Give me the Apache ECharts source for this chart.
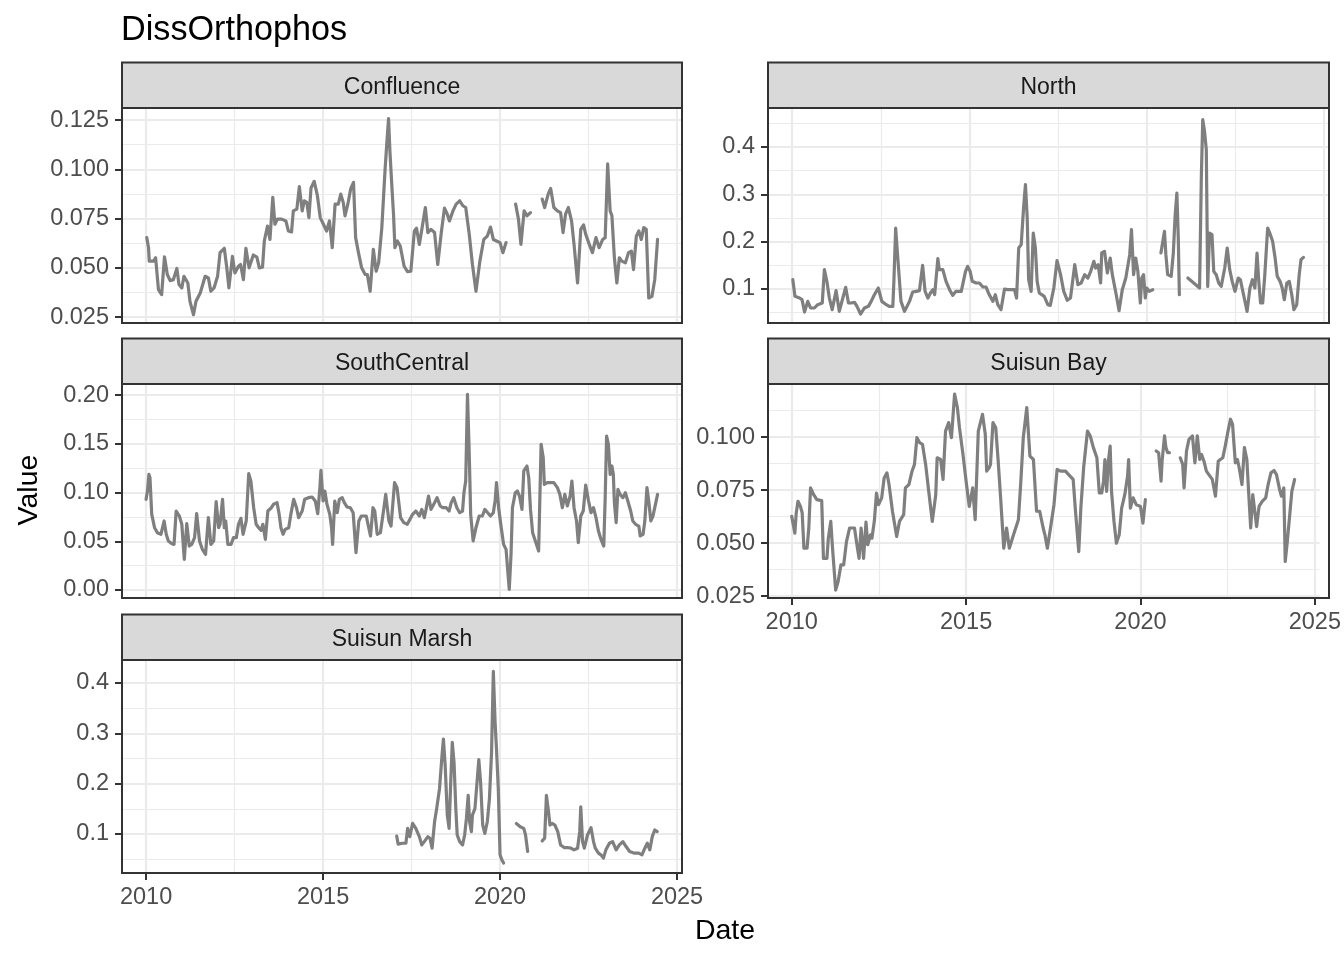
<!DOCTYPE html>
<html>
<head>
<meta charset="utf-8">
<script src="https://cdn.jsdelivr.net/npm/echarts@6/dist/echarts.min.js"></script>
<style>html,body{margin:0;padding:0;background:#fff}#chart{width:1344px;height:960px}</style>
</head>
<body>
<div id="chart"></div>
<script>
const chartTitle = 'DissOrthophos';
const panelNames = ['Confluence', 'North', 'SouthCentral', 'Suisun Bay', 'Suisun Marsh'];
const xMajorTicks = [2010, 2015, 2020, 2025];
const xMinorTicks = [2012.5, 2017.5, 2022.5];
const confluenceTicks = [0.025, 0.05, 0.075, 0.1, 0.125];
const confluenceMinor = [0.0375, 0.0625, 0.0875, 0.1125];
const northTicks = [0.1, 0.2, 0.3, 0.4];
const northMinor = [0.05, 0.15, 0.25, 0.35, 0.45];
const southCentralTicks = [0, 0.05, 0.1, 0.15, 0.2];
const southCentralMinor = [0.025, 0.075, 0.125, 0.175];
const suisunBayTicks = [0.025, 0.05, 0.075, 0.1];
const suisunBayMinor = [0.0375, 0.0625, 0.0875, 0.1125];
const suisunMarshTicks = [0.1, 0.2, 0.3, 0.4];
const suisunMarshMinor = [0.05, 0.15, 0.25, 0.35];

const confluence = [[2010.02,0.0653],[2010.07,0.0602],[2010.09,0.0534],[2010.21,0.0534],[2010.27,0.0551],[2010.35,0.0389],[2010.44,0.0364],[2010.52,0.0556],[2010.60,0.0466],[2010.68,0.0435],[2010.77,0.0440],[2010.87,0.0497],[2010.93,0.0415],[2011.01,0.0398],[2011.07,0.0457],[2011.18,0.0423],[2011.24,0.0330],[2011.34,0.0262],[2011.41,0.0330],[2011.53,0.0372],[2011.67,0.0457],[2011.76,0.0449],[2011.83,0.0381],[2011.92,0.0398],[2012.02,0.0457],[2012.09,0.0577],[2012.21,0.0599],[2012.28,0.0500],[2012.34,0.0398],[2012.44,0.0558],[2012.51,0.0474],[2012.61,0.0508],[2012.67,0.0517],[2012.75,0.0440],[2012.82,0.0599],[2012.91,0.0500],[2013.03,0.0565],[2013.13,0.0554],[2013.20,0.0500],[2013.29,0.0503],[2013.34,0.0636],[2013.43,0.0712],[2013.50,0.0644],[2013.58,0.0857],[2013.64,0.0721],[2013.71,0.0747],[2013.83,0.0747],[2013.95,0.0738],[2014.02,0.0687],[2014.11,0.0682],[2014.16,0.0789],[2014.26,0.0798],[2014.33,0.0912],[2014.41,0.0789],[2014.47,0.0840],[2014.54,0.0832],[2014.60,0.0755],[2014.66,0.0905],[2014.75,0.0939],[2014.84,0.0866],[2014.92,0.0755],[2015.01,0.0721],[2015.10,0.0687],[2015.18,0.0738],[2015.26,0.0602],[2015.34,0.0823],[2015.43,0.0823],[2015.50,0.0874],[2015.57,0.0832],[2015.62,0.0764],[2015.70,0.0823],[2015.78,0.0900],[2015.86,0.0934],[2015.92,0.0653],[2016.00,0.0577],[2016.09,0.0500],[2016.19,0.0466],[2016.25,0.0466],[2016.33,0.0381],[2016.42,0.0594],[2016.50,0.0483],[2016.57,0.0525],[2016.66,0.0704],[2016.75,0.0993],[2016.80,0.1129],[2016.85,0.1257],[2016.89,0.1087],[2016.94,0.0925],[2016.99,0.0772],[2017.03,0.0602],[2017.10,0.0636],[2017.18,0.0611],[2017.29,0.0508],[2017.39,0.0480],[2017.48,0.0483],[2017.58,0.0687],[2017.64,0.0701],[2017.72,0.0619],[2017.79,0.0695],[2017.89,0.0806],[2017.96,0.0679],[2018.05,0.0695],[2018.15,0.0679],[2018.24,0.0517],[2018.34,0.0679],[2018.43,0.0803],[2018.51,0.0772],[2018.57,0.0738],[2018.67,0.0789],[2018.76,0.0823],[2018.86,0.0840],[2018.95,0.0815],[2019.03,0.0806],[2019.13,0.0670],[2019.22,0.0517],[2019.32,0.0381],[2019.43,0.0534],[2019.54,0.0644],[2019.64,0.0661],[2019.73,0.0707],[2019.81,0.0644],[2019.90,0.0636],[2020.00,0.0628],[2020.08,0.0577],[2020.17,0.0628],[2020.30,null],[2020.44,0.0823],[2020.52,0.0747],[2020.59,0.0619],[2020.68,0.0789],[2020.76,0.0764],[2020.86,0.0780],[2021.02,null],[2021.19,0.0849],[2021.26,0.0806],[2021.36,0.0874],[2021.43,0.0903],[2021.52,0.0806],[2021.62,0.0789],[2021.71,0.0780],[2021.78,0.0679],[2021.85,0.0772],[2021.93,0.0806],[2022.02,0.0738],[2022.09,0.0619],[2022.19,0.0423],[2022.28,0.0695],[2022.36,0.0718],[2022.42,0.0670],[2022.52,0.0619],[2022.61,0.0577],[2022.71,0.0653],[2022.80,0.0602],[2022.90,0.0644],[2022.97,0.0653],[2023.04,0.1027],[2023.11,0.0789],[2023.16,0.0764],[2023.23,0.0551],[2023.30,0.0423],[2023.37,0.0551],[2023.44,0.0534],[2023.54,0.0525],[2023.63,0.0577],[2023.71,0.0585],[2023.77,0.0491],[2023.85,0.0661],[2023.92,0.0687],[2023.99,0.0644],[2024.06,0.0704],[2024.13,0.0695],[2024.20,0.0347],[2024.29,0.0355],[2024.37,0.0440],[2024.45,0.0644]];

const north = [[2010.02,0.1197],[2010.08,0.0845],[2010.21,0.0810],[2010.28,0.0775],[2010.35,0.0514],[2010.44,0.0739],[2010.52,0.0599],[2010.63,0.0599],[2010.72,0.0669],[2010.85,0.0704],[2010.91,0.1408],[2010.98,0.1162],[2011.05,0.0810],[2011.13,0.0563],[2011.24,0.0965],[2011.33,0.0528],[2011.43,0.0810],[2011.51,0.1035],[2011.59,0.0704],[2011.66,0.0704],[2011.76,0.0718],[2011.83,0.0634],[2011.93,0.0472],[2012.04,0.0599],[2012.15,0.0634],[2012.23,0.0739],[2012.32,0.0880],[2012.43,0.1021],[2012.53,0.0739],[2012.63,0.0683],[2012.74,0.0634],[2012.84,0.0634],[2012.87,0.1162],[2012.92,0.2289],[2012.98,0.1655],[2013.07,0.0739],[2013.17,0.0528],[2013.31,0.0739],[2013.40,0.0937],[2013.50,0.0951],[2013.59,0.0965],[2013.68,0.1500],[2013.75,0.0951],[2013.83,0.0810],[2013.90,0.0915],[2013.97,0.0986],[2014.02,0.0880],[2014.11,0.1641],[2014.15,0.1408],[2014.25,0.1408],[2014.34,0.1162],[2014.44,0.0986],[2014.53,0.0866],[2014.62,0.0951],[2014.77,0.0951],[2014.89,0.1373],[2014.95,0.1479],[2015.02,0.1373],[2015.08,0.1162],[2015.19,0.1127],[2015.28,0.1127],[2015.38,0.1042],[2015.47,0.1042],[2015.55,0.0894],[2015.66,0.0739],[2015.73,0.0880],[2015.80,0.0669],[2015.89,0.0563],[2015.99,0.1000],[2016.08,0.0986],[2016.17,0.0986],[2016.27,0.0986],[2016.33,0.0810],[2016.39,0.1866],[2016.46,0.1937],[2016.50,0.1937],[2016.53,0.2746],[2016.58,0.3204],[2016.63,0.2500],[2016.67,0.1197],[2016.74,0.0951],[2016.80,0.2183],[2016.86,0.1866],[2016.91,0.1162],[2016.97,0.0915],[2017.04,0.0880],[2017.11,0.0845],[2017.21,0.0669],[2017.28,0.0655],[2017.38,0.1021],[2017.47,0.1599],[2017.57,0.1303],[2017.66,0.0951],[2017.76,0.0761],[2017.85,0.0810],[2017.97,0.1514],[2018.06,0.1092],[2018.15,0.1127],[2018.25,0.1303],[2018.34,0.1232],[2018.42,0.1373],[2018.51,0.1585],[2018.56,0.1444],[2018.63,0.1514],[2018.70,0.1127],[2018.73,0.1761],[2018.81,0.1796],[2018.89,0.1338],[2018.97,0.1655],[2019.03,0.1303],[2019.14,0.0880],[2019.22,0.0542],[2019.31,0.0986],[2019.41,0.1232],[2019.46,0.1232],[2019.52,0.1725],[2019.57,0.2254],[2019.63,0.1303],[2019.69,0.1655],[2019.75,0.1373],[2019.82,0.0704],[2019.86,0.1232],[2019.91,0.1303],[2019.96,0.0810],[2020.00,0.1021],[2020.07,0.0951],[2020.17,0.0986],[2020.28,null],[2020.40,0.1761],[2020.45,0.1725],[2020.50,0.2218],[2020.54,0.1725],[2020.59,0.1303],[2020.69,0.1268],[2020.75,0.1761],[2020.80,0.2535],[2020.85,0.3028],[2020.89,0.2077],[2020.92,0.0880],[2021.04,null],[2021.16,0.1232],[2021.49,0.1021],[2021.54,0.3380],[2021.58,0.4577],[2021.63,0.4331],[2021.68,0.3944],[2021.72,0.1056],[2021.77,0.2183],[2021.84,0.2148],[2021.89,0.1373],[2021.96,0.1303],[2022.03,0.1127],[2022.10,0.1056],[2022.20,0.1444],[2022.27,0.1866],[2022.34,0.1408],[2022.41,0.1162],[2022.49,0.0951],[2022.58,0.1232],[2022.64,0.1197],[2022.72,0.0915],[2022.83,0.0528],[2022.91,0.1021],[2022.98,0.1197],[2023.05,0.1021],[2023.11,0.1761],[2023.16,0.1162],[2023.21,0.0704],[2023.27,0.0704],[2023.33,0.1303],[2023.41,0.2289],[2023.47,0.2183],[2023.55,0.2007],[2023.62,0.1655],[2023.68,0.1268],[2023.76,0.1162],[2023.82,0.1021],[2023.88,0.0775],[2023.95,0.1127],[2024.02,0.1162],[2024.09,0.0880],[2024.15,0.0563],[2024.23,0.0669],[2024.30,0.1303],[2024.35,0.1620],[2024.42,0.1669]];

const southCentral = [[2010.00,0.0930],[2010.04,0.1015],[2010.08,0.1186],[2010.11,0.1152],[2010.16,0.0776],[2010.24,0.0639],[2010.32,0.0588],[2010.42,0.0571],[2010.51,0.0708],[2010.57,0.0571],[2010.63,0.0503],[2010.73,0.0475],[2010.79,0.0468],[2010.85,0.0810],[2010.94,0.0759],[2011.01,0.0674],[2011.08,0.0315],[2011.15,0.0680],[2011.22,0.0451],[2011.29,0.0468],[2011.37,0.0537],[2011.43,0.0783],[2011.51,0.0503],[2011.59,0.0417],[2011.68,0.0366],[2011.76,0.0742],[2011.83,0.0468],[2011.91,0.0503],[2011.98,0.0906],[2012.05,0.0639],[2012.09,0.0674],[2012.16,0.0930],[2012.21,0.0639],[2012.25,0.0708],[2012.31,0.0468],[2012.40,0.0468],[2012.47,0.0537],[2012.55,0.0537],[2012.61,0.0674],[2012.68,0.0735],[2012.74,0.0571],[2012.83,0.0708],[2012.90,0.1193],[2012.96,0.1118],[2013.04,0.0844],[2013.11,0.0674],[2013.18,0.0639],[2013.25,0.0612],[2013.30,0.0674],[2013.37,0.0520],[2013.44,0.0810],[2013.54,0.0844],[2013.60,0.0879],[2013.70,0.0896],[2013.76,0.0776],[2013.81,0.0639],[2013.87,0.0571],[2013.93,0.0622],[2014.03,0.0639],[2014.09,0.0776],[2014.17,0.0930],[2014.25,0.0844],[2014.31,0.0742],[2014.41,0.0810],[2014.48,0.0930],[2014.59,0.0947],[2014.69,0.0954],[2014.78,0.0913],[2014.85,0.0783],[2014.91,0.1050],[2014.94,0.1227],[2015.00,0.0913],[2015.05,0.1015],[2015.11,0.0879],[2015.19,0.0776],[2015.24,0.0639],[2015.27,0.0468],[2015.33,0.0913],[2015.40,0.0793],[2015.46,0.0930],[2015.54,0.0947],[2015.60,0.0896],[2015.68,0.0851],[2015.77,0.0844],[2015.85,0.0793],[2015.93,0.0383],[2016.01,0.0708],[2016.08,0.0759],[2016.15,0.0759],[2016.22,0.0759],[2016.29,0.0639],[2016.34,0.0554],[2016.41,0.0844],[2016.46,0.0810],[2016.53,0.0571],[2016.62,0.0588],[2016.72,0.0844],[2016.77,0.0981],[2016.86,0.0708],[2016.92,0.0656],[2017.02,0.1101],[2017.09,0.1050],[2017.19,0.0742],[2017.28,0.0691],[2017.38,0.0674],[2017.53,0.0776],[2017.62,0.0810],[2017.72,0.0759],[2017.79,0.0827],[2017.86,0.0742],[2017.91,0.0827],[2017.98,0.0964],[2018.05,0.0827],[2018.15,0.0896],[2018.22,0.0947],[2018.31,0.0862],[2018.38,0.0844],[2018.48,0.0844],[2018.56,0.0810],[2018.62,0.0896],[2018.69,0.0947],[2018.78,0.0844],[2018.86,0.0793],[2018.94,0.0810],[2018.98,0.0998],[2019.03,0.1118],[2019.08,0.2007],[2019.13,0.1391],[2019.17,0.0776],[2019.24,0.0503],[2019.32,0.0639],[2019.41,0.0759],[2019.50,0.0759],[2019.57,0.0827],[2019.65,0.0793],[2019.73,0.0759],[2019.81,0.0793],[2019.86,0.0913],[2019.90,0.1101],[2019.96,0.0844],[2020.02,0.0674],[2020.10,0.0468],[2020.17,0.0417],[2020.21,0.0229],[2020.26,0.0007],[2020.31,0.0366],[2020.35,0.0844],[2020.43,0.0998],[2020.49,0.1015],[2020.55,0.0964],[2020.62,0.0827],[2020.67,0.1221],[2020.76,0.1272],[2020.81,0.1152],[2020.86,0.0827],[2020.92,0.0588],[2021.09,0.0400],[2021.16,0.1494],[2021.22,0.1357],[2021.25,0.1084],[2021.33,0.1101],[2021.43,0.1101],[2021.52,0.1101],[2021.62,0.1050],[2021.69,0.0981],[2021.76,0.0844],[2021.83,0.0981],[2021.90,0.0862],[2021.98,0.0964],[2022.03,0.1118],[2022.09,0.0844],[2022.16,0.0708],[2022.21,0.0485],[2022.28,0.0759],[2022.35,0.0810],[2022.42,0.1077],[2022.50,0.0913],[2022.57,0.0793],[2022.64,0.0844],[2022.71,0.0742],[2022.78,0.0605],[2022.85,0.0520],[2022.93,0.0451],[2022.97,0.0947],[2023.01,0.1579],[2023.06,0.1494],[2023.11,0.1186],[2023.16,0.1272],[2023.20,0.1186],[2023.23,0.0896],[2023.28,0.0691],[2023.33,0.1032],[2023.39,0.0981],[2023.47,0.0947],[2023.54,0.0998],[2023.61,0.0913],[2023.69,0.0810],[2023.75,0.0708],[2023.83,0.0674],[2023.92,0.0656],[2023.96,0.0554],[2024.04,0.0571],[2024.09,0.0708],[2024.15,0.1050],[2024.20,0.0913],[2024.26,0.0708],[2024.32,0.0759],[2024.39,0.0879],[2024.45,0.0981]];

const suisunBay = [[2010.00,0.0626],[2010.05,0.0634],[2010.09,0.0547],[2010.13,0.0642],[2010.18,0.0697],[2010.25,0.0673],[2010.30,0.0642],[2010.35,0.0476],[2010.44,0.0476],[2010.49,0.0571],[2010.54,0.0760],[2010.63,0.0728],[2010.72,0.0705],[2010.86,0.0700],[2010.91,0.0428],[2011.01,0.0428],[2011.05,0.0523],[2011.12,0.0602],[2011.17,0.0476],[2011.26,0.0278],[2011.33,0.0318],[2011.41,0.0397],[2011.49,0.0397],[2011.57,0.0507],[2011.66,0.0571],[2011.80,0.0571],[2011.87,0.0492],[2011.93,0.0428],[2011.99,0.0571],[2012.06,0.0428],[2012.13,0.0599],[2012.18,0.0492],[2012.26,0.0539],[2012.30,0.0523],[2012.37,0.0605],[2012.43,0.0736],[2012.49,0.0681],[2012.58,0.0713],[2012.65,0.0807],[2012.73,0.0831],[2012.79,0.0776],[2012.89,0.0649],[2013.01,0.0531],[2013.09,0.0602],[2013.21,0.0634],[2013.26,0.0760],[2013.36,0.0776],[2013.45,0.0839],[2013.52,0.0871],[2013.59,0.0997],[2013.67,0.0973],[2013.75,0.0965],[2013.84,0.0871],[2013.94,0.0728],[2014.03,0.0602],[2014.13,0.0728],[2014.17,0.0902],[2014.27,0.0894],[2014.34,0.0800],[2014.41,0.1028],[2014.50,0.1068],[2014.58,0.0997],[2014.67,0.1202],[2014.75,0.1139],[2014.81,0.1044],[2014.91,0.0918],[2015.00,0.0792],[2015.09,0.0673],[2015.19,0.0760],[2015.26,0.0610],[2015.35,0.1028],[2015.40,0.1028],[2015.47,0.1107],[2015.55,0.1013],[2015.59,0.0839],[2015.66,0.0855],[2015.70,0.0871],[2015.77,0.1068],[2015.85,0.1044],[2015.92,0.0886],[2015.99,0.0713],[2016.08,0.0476],[2016.16,0.0571],[2016.24,0.0476],[2016.36,0.0539],[2016.50,0.0610],[2016.57,0.0792],[2016.64,0.0997],[2016.74,0.1139],[2016.83,0.0910],[2016.93,0.0894],[2017.02,0.0650],[2017.11,0.0650],[2017.21,0.0571],[2017.26,0.0539],[2017.33,0.0476],[2017.42,0.0571],[2017.52,0.0681],[2017.61,0.0847],[2017.71,0.0839],[2017.85,0.0839],[2017.94,0.0823],[2018.07,0.0800],[2018.13,0.0665],[2018.23,0.0460],[2018.29,0.0665],[2018.37,0.0855],[2018.48,0.1028],[2018.56,0.1005],[2018.65,0.0950],[2018.75,0.0902],[2018.82,0.0736],[2018.89,0.0736],[2018.94,0.0792],[2018.98,0.0894],[2019.03,0.0744],[2019.08,0.0886],[2019.13,0.0957],[2019.17,0.0744],[2019.24,0.0602],[2019.31,0.0499],[2019.39,0.0539],[2019.46,0.0665],[2019.55,0.0728],[2019.63,0.0815],[2019.66,0.0894],[2019.71,0.0665],[2019.79,0.0713],[2019.88,0.0681],[2020.00,0.0673],[2020.07,0.0594],[2020.14,0.0705],[2020.30,null],[2020.45,0.0934],[2020.52,0.0926],[2020.59,0.0792],[2020.62,0.0886],[2020.69,0.1005],[2020.73,0.0950],[2020.78,0.0926],[2020.83,0.0926],[2020.98,null],[2021.14,0.0902],[2021.21,0.0871],[2021.25,0.0760],[2021.32,0.0934],[2021.39,0.0989],[2021.49,0.1005],[2021.56,0.0878],[2021.63,0.1005],[2021.70,0.0894],[2021.75,0.0918],[2021.82,0.0886],[2021.89,0.0839],[2021.96,0.0823],[2022.06,0.0800],[2022.15,0.0721],[2022.23,0.0886],[2022.29,0.0894],[2022.36,0.0902],[2022.43,0.0957],[2022.51,0.1028],[2022.58,0.1084],[2022.64,0.1060],[2022.72,0.0878],[2022.78,0.0894],[2022.83,0.0855],[2022.91,0.0776],[2022.98,0.0950],[2023.05,0.0894],[2023.10,0.0744],[2023.16,0.0571],[2023.22,0.0728],[2023.27,0.0736],[2023.33,0.0578],[2023.40,0.0673],[2023.49,0.0697],[2023.59,0.0713],[2023.66,0.0776],[2023.74,0.0831],[2023.83,0.0842],[2023.90,0.0823],[2023.99,0.0752],[2024.04,0.0721],[2024.11,0.0760],[2024.15,0.0413],[2024.21,0.0507],[2024.28,0.0634],[2024.34,0.0744],[2024.42,0.0800]];

const suisunMarsh = [[2017.08,0.0960],[2017.12,0.0800],[2017.24,0.0816],[2017.34,0.0816],[2017.39,0.1112],[2017.45,0.0947],[2017.53,0.1210],[2017.62,0.1112],[2017.72,0.0947],[2017.79,0.0783],[2017.86,0.0849],[2017.96,0.0947],[2018.02,0.0915],[2018.08,0.0718],[2018.15,0.1243],[2018.21,0.1506],[2018.29,0.1900],[2018.36,0.2556],[2018.40,0.2884],[2018.45,0.2359],[2018.51,0.1374],[2018.56,0.1112],[2018.60,0.1900],[2018.65,0.2819],[2018.70,0.2425],[2018.75,0.1506],[2018.79,0.0980],[2018.86,0.0849],[2018.94,0.0783],[2019.00,0.0980],[2019.05,0.1309],[2019.10,0.1768],[2019.14,0.1243],[2019.19,0.1046],[2019.22,0.1374],[2019.29,0.1506],[2019.35,0.2031],[2019.40,0.2477],[2019.45,0.2031],[2019.51,0.1177],[2019.57,0.1013],[2019.64,0.1243],[2019.70,0.1703],[2019.76,0.2622],[2019.81,0.4230],[2019.86,0.3213],[2019.90,0.2687],[2019.95,0.1900],[2020.00,0.0586],[2020.05,0.0488],[2020.10,0.0422],[2020.28,null],[2020.46,0.1210],[2020.57,0.1144],[2020.67,0.1112],[2020.72,0.0980],[2020.78,0.0652],[2020.98,null],[2021.19,0.0862],[2021.26,0.0915],[2021.31,0.1768],[2021.37,0.1440],[2021.41,0.1177],[2021.47,0.1210],[2021.55,0.1177],[2021.63,0.1046],[2021.71,0.0783],[2021.81,0.0731],[2021.90,0.0731],[2022.00,0.0718],[2022.09,0.0685],[2022.19,0.0718],[2022.25,0.1046],[2022.28,0.1538],[2022.33,0.0849],[2022.38,0.0718],[2022.47,0.0980],[2022.57,0.1125],[2022.64,0.0849],[2022.69,0.0718],[2022.78,0.0619],[2022.85,0.0586],[2022.92,0.0521],[2022.99,0.0685],[2023.09,0.0816],[2023.18,0.0849],[2023.28,0.0685],[2023.37,0.0783],[2023.47,0.0849],[2023.56,0.0751],[2023.66,0.0652],[2023.80,0.0619],[2023.92,0.0619],[2024.01,0.0586],[2024.09,0.0718],[2024.16,0.0816],[2024.23,0.0685],[2024.30,0.0947],[2024.37,0.1079],[2024.44,0.1046]];

const seriesData = [confluence, north, southCentral, suisunBay, suisunMarsh];
const yMajor = [confluenceTicks, northTicks, southCentralTicks, suisunBayTicks, suisunMarshTicks];
const yMinor = [confluenceMinor, northMinor, southCentralMinor, suisunBayMinor, suisunMarshMinor];
const yDecimals = [3, 1, 2, 3, 1];
const yRange = [[0.0220, 0.1311], [0.0282, 0.4824], [-0.0082, 0.2113], [0.0241, 0.1250], [0.0225, 0.4457]];
const xRange = [2009.32, 2025.14];

// layout (pixels)
const panels = [
  {left: 122, top: 108, width: 560, height: 215, xLabels: false},
  {left: 768, top: 108, width: 561, height: 215, xLabels: false},
  {left: 122, top: 384, width: 560, height: 214, xLabels: false},
  {left: 768, top: 384, width: 561, height: 214, xLabels: true},
  {left: 122, top: 660, width: 560, height: 213, xLabels: true}
];
const stripH = 45.5;
const FONT = '"Liberation Sans", Arial, sans-serif';
const tickColor = '#333333';
const labelColor = '#4D4D4D';
const tickFont = 23.5;

const grid = [], xAxis = [], yAxis = [], series = [], graphic = [];
panels.forEach((p, i) => {
  grid.push({left: p.left, top: p.top, width: p.width, height: p.height, containLabel: false, show: false});
  xAxis.push({
    gridIndex: i, type: 'value', position: 'bottom', min: xRange[0], max: xRange[1],
    axisLine: {show: false}, axisLabel: {show: false, customValues: xMinorTicks},
    axisTick: {show: false, customValues: xMinorTicks},
    splitLine: {show: true, lineStyle: {color: '#EBEBEB', width: 1.2}}
  });
  xAxis.push({
    gridIndex: i, type: 'value', position: 'bottom', min: xRange[0], max: xRange[1],
    axisLine: {show: false},
    axisTick: {show: p.xLabels, customValues: xMajorTicks, length: 7, lineStyle: {color: tickColor, width: 2}},
    axisLabel: {show: p.xLabels, customValues: xMajorTicks, margin: 13, color: labelColor,
      fontFamily: FONT, fontSize: tickFont, formatter: v => String(Math.round(v))},
    splitLine: {show: true, lineStyle: {color: '#EBEBEB', width: 2.2}}
  });
  yAxis.push({
    gridIndex: i, type: 'value', position: 'left', min: yRange[i][0], max: yRange[i][1],
    axisLine: {show: false}, axisLabel: {show: false, customValues: yMinor[i]},
    axisTick: {show: false, customValues: yMinor[i]},
    splitLine: {show: true, lineStyle: {color: '#EBEBEB', width: 1.2}}
  });
  yAxis.push({
    gridIndex: i, type: 'value', position: 'left', min: yRange[i][0], max: yRange[i][1],
    axisLine: {show: false},
    axisTick: {show: true, customValues: yMajor[i], length: 7, lineStyle: {color: tickColor, width: 2}},
    axisLabel: {show: true, customValues: yMajor[i], margin: 13, color: labelColor,
      fontFamily: FONT, fontSize: tickFont, formatter: v => v.toFixed(yDecimals[i])},
    splitLine: {show: true, lineStyle: {color: '#EBEBEB', width: 2.2}}
  });
  series.push({
    type: 'line', name: panelNames[i], xAxisIndex: 2 * i + 1, yAxisIndex: 2 * i + 1,
    data: seriesData[i], showSymbol: false, symbol: 'none', connectNulls: false,
    lineStyle: {color: '#7F7F7F', width: 3.2, join: 'round', cap: 'round'},
    emphasis: {disabled: true}, z: 5
  });
  graphic.push({type: 'rect', z: 100, silent: true,
    shape: {x: p.left, y: p.top, width: p.width, height: p.height},
    style: {fill: 'none', stroke: '#333333', lineWidth: 2}});
  graphic.push({type: 'rect', z: 100, silent: true,
    shape: {x: p.left, y: p.top - stripH, width: p.width, height: stripH},
    style: {fill: '#D9D9D9', stroke: '#333333', lineWidth: 2}});
  graphic.push({type: 'text', z: 101, silent: true,
    x: p.left + p.width / 2, y: p.top - stripH / 2 + 2.5,
    style: {text: panelNames[i], fill: '#1A1A1A', font: '23px ' + FONT, align: 'center', verticalAlign: 'middle'}});
});

graphic.push({type: 'text', z: 101, x: 121, y: 31,
  style: {text: chartTitle, fill: '#000000', font: '34.2px ' + FONT, align: 'left', verticalAlign: 'middle'}});
graphic.push({type: 'text', z: 101, x: 725, y: 931,
  style: {text: 'Date', fill: '#000000', font: '28.5px ' + FONT, align: 'center', verticalAlign: 'middle'}});
graphic.push({type: 'text', z: 101, x: 29, y: 490, rotation: Math.PI / 2,
  style: {text: 'Value', fill: '#000000', font: '28.5px ' + FONT, align: 'center', verticalAlign: 'middle'}});

const chart = echarts.init(document.getElementById('chart'), null, {renderer: 'canvas'});
chart.setOption({
  backgroundColor: '#FFFFFF',
  animation: false,
  grid, xAxis, yAxis, series, graphic
});
</script>
</body>
</html>
